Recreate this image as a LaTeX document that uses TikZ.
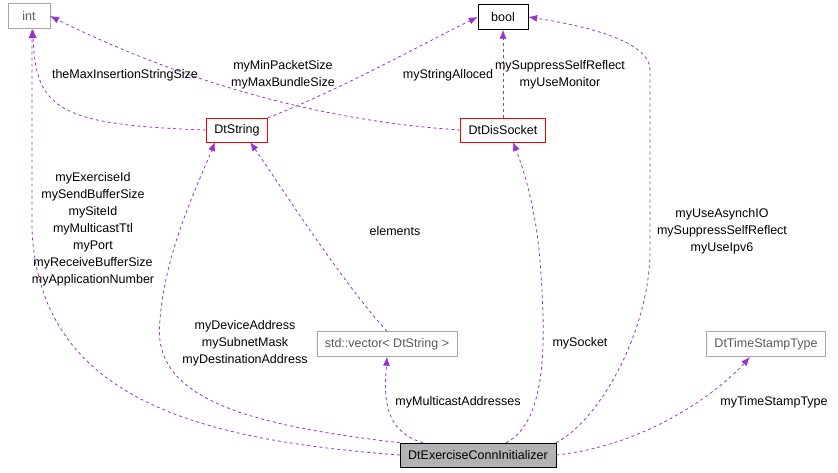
\documentclass[tikz,border=0pt]{standalone}
\usepackage{fontspec}
\setmainfont{Liberation Sans}
\usetikzlibrary{arrows.meta}
\definecolor{edgecol}{RGB}{154,50,205}
\begin{document}
\begin{tikzpicture}[x=1pt, y=-1pt, font=\fontsize{12.5}{17}\selectfont]
            \tikzstyle{cls} = [draw=black, minimum height=24pt, inner xsep=8pt]
            \tikzstyle{redcls} = [draw=red, minimum height=24pt, inner xsep=8pt]
            \tikzstyle{grycls} = [draw=black!35, text=black!65, minimum height=25pt, inner xsep=8pt]
            \tikzstyle{rel} = [draw=edgecol, dashed, line width=0.8pt, -{Latex[length=9pt, width=7pt]}]
            \tikzstyle{lbl} = [align=center, inner sep=0pt]
            \useasboundingbox (0,0) rectangle (838,472);

            \node [grycls, minimum width=42pt] (int) at (29,16) {int};
            \node [cls, minimum width=50pt, minimum height=25pt] (bool) at (503,17) {bool};
            \node [redcls] (str) at (237,130) {DtString};
            \node [redcls] (sock) at (503,130) {DtDisSocket};
            \node [grycls] (vec) at (387,344) {std::vector\textless{} DtString \textgreater};
            \node [grycls] (ts) at (766,344) {DtTimeStampType};
            \node [draw=black, fill=black!30, minimum height=24pt, inner xsep=8pt] (init) at (478,455) {DtExerciseConnInitializer};

            \draw [rel] (init.west) .. controls (200,440) and (40,400) .. (32,230) -- (32,29);
            \draw [rel] (str.west) .. controls (60,125) and (35,110) .. (33,29);
            \draw [rel] (sock.west) .. controls (380,125) and (230,105) .. (50,16);
            \draw [rel] (str.north east) .. controls (340,90) and (430,40) .. (bool.west);
            \draw [rel] (sock.north) -- (bool.south);
            \draw [rel] (init.north east) .. controls (600,420) and (650,330) .. (650,250) -- (650,70) .. controls (650,40) and (580,25) .. (bool.east);
            \draw [rel] (init.north west) .. controls (250,425) and (150,400) .. (160,320) .. controls (165,250) and (200,180) .. (215,142);
            \draw [rel] (vec.north) .. controls (340,280) and (270,170) .. (250,142);
            \draw [rel] (init.north) ++(-55,0) .. controls (380,430) and (385,390) .. (vec.south);
            \draw [rel] (init.north) ++(28,0) .. controls (550,420) and (545,330) .. (540,260) .. controls (535,200) and (520,160) .. (513,142);
            \draw [rel] (init.east) .. controls (650,445) and (720,390) .. (750,357);

            \node [lbl] (l1) at (93,229) {myExerciseId\\mySendBufferSize\\mySiteId\\myMulticastTtl\\myPort\\myReceiveBufferSize\\myApplicationNumber};
            \node [lbl] (l2) at (125,75) {theMaxInsertionStringSize};
            \node [lbl] (l3) at (283,75) {myMinPacketSize\\myMaxBundleSize};
            \node [lbl] (l4) at (448,75) {myStringAlloced};
            \node [lbl] (l5) at (560,75) {mySuppressSelfReflect\\myUseMonitor};
            \node [lbl] (l6) at (722,231) {myUseAsynchIO\\mySuppressSelfReflect\\myUseIpv6};
            \node [lbl] (l7) at (245,343) {myDeviceAddress\\mySubnetMask\\myDestinationAddress};
            \node [lbl] (l8) at (395,231) {elements};
            \node [lbl] (l9) at (458,402) {myMulticastAddresses};
            \node [lbl] (l10) at (580,343) {mySocket};
            \node [lbl] (l11) at (774,402) {myTimeStampType};
\end{tikzpicture}
\end{document}
